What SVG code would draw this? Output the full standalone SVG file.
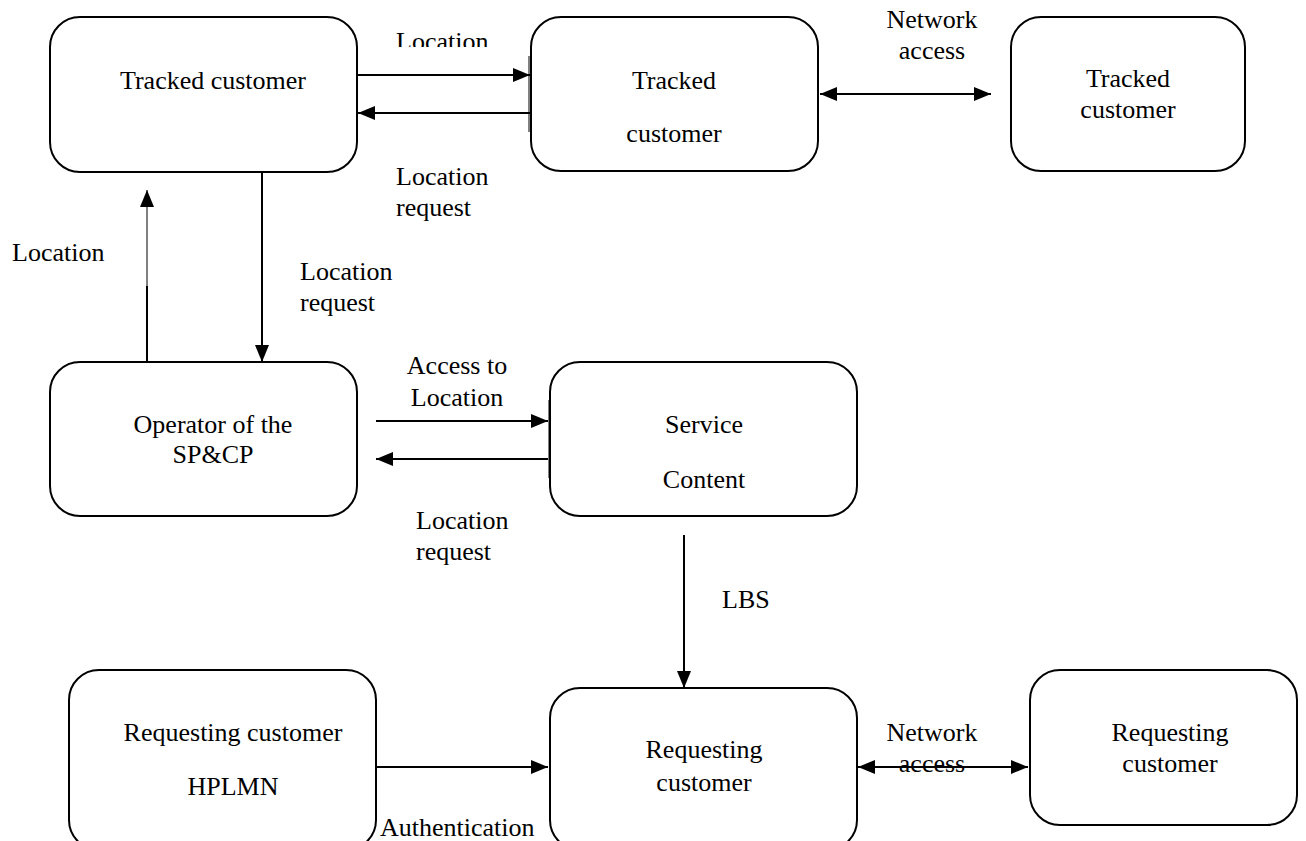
<svg xmlns="http://www.w3.org/2000/svg" width="1306" height="841" viewBox="0 0 1306 841">
<style>
.box{fill:#fff;stroke:#000;stroke-width:2}
.t{font-family:"Liberation Serif","Times New Roman",serif;font-size:26px;fill:#000}
.m{text-anchor:middle}
.c{stroke:#000;stroke-width:2;fill:none}
.thin{stroke:#000;stroke-width:1;fill:none}
</style>
<defs>
<marker id="ah" markerUnits="userSpaceOnUse" markerWidth="18" markerHeight="14" refX="17" refY="7" orient="auto-start-reverse">
<path d="M0,0 L17,7 L0,14 Z" fill="#000"/>
</marker>
<clipPath id="clipTop"><rect x="380" y="0" width="140" height="47"/></clipPath>
</defs>
<rect width="1306" height="841" fill="#fff"/>

<g id="n-tracked1">
<rect class="box" x="50" y="17" width="307" height="155" rx="30"/>
<text class="t m" x="213" y="89">Tracked customer</text>
</g>
<g id="n-tracked2">
<rect class="box" x="531" y="17" width="287" height="154" rx="30"/>
<text class="t m" x="674" y="89">Tracked</text>
<text class="t m" x="674" y="142">customer</text>
</g>
<g id="n-tracked3">
<rect class="box" x="1011" y="17" width="234" height="154" rx="30"/>
<text class="t m" x="1128" y="87">Tracked</text>
<text class="t m" x="1128" y="118">customer</text>
</g>
<g id="n-operator">
<rect class="box" x="50" y="362" width="307" height="154" rx="30"/>
<text class="t m" x="213" y="433">Operator of the</text>
<text class="t m" x="213" y="463">SP&amp;CP</text>
</g>
<g id="n-service">
<rect class="box" x="550" y="362" width="307" height="154" rx="30"/>
<text class="t m" x="704" y="433">Service</text>
<text class="t m" x="704" y="488">Content</text>
</g>
<g id="n-req-hplmn">
<rect class="box" x="69" y="670" width="307" height="180" rx="30"/>
<text class="t m" x="233" y="741">Requesting customer</text>
<text class="t m" x="233" y="795">HPLMN</text>
</g>
<g id="n-req-mid">
<rect class="box" x="550" y="688" width="307" height="162" rx="30"/>
<text class="t m" x="704" y="758">Requesting</text>
<text class="t m" x="704" y="791">customer</text>
</g>
<g id="n-req-right">
<rect class="box" x="1030" y="670" width="267" height="155" rx="30"/>
<text class="t m" x="1170" y="741">Requesting</text>
<text class="t m" x="1170" y="772">customer</text>
</g>

<g id="connectors">
<line class="thin" x1="529" y1="56" x2="529" y2="132"/>
<line class="thin" x1="549" y1="400" x2="549" y2="478"/>
<line class="c" x1="357" y1="75" x2="530" y2="75" marker-end="url(#ah)"/>
<line class="c" x1="530" y1="113" x2="358" y2="113" marker-end="url(#ah)"/>
<line class="c" x1="820" y1="94" x2="991" y2="94" marker-start="url(#ah)" marker-end="url(#ah)"/>
<line class="c" x1="147" y1="362" x2="147" y2="286"/>
<line class="thin" x1="147" y1="290" x2="147" y2="190" marker-end="url(#ah)"/>
<line class="c" x1="262" y1="172" x2="262" y2="362" marker-end="url(#ah)"/>
<line class="c" x1="376" y1="421" x2="548" y2="421" marker-end="url(#ah)"/>
<line class="c" x1="548" y1="459" x2="376" y2="459" marker-end="url(#ah)"/>
<line class="c" x1="684" y1="535" x2="684" y2="688" marker-end="url(#ah)"/>
<line class="c" x1="376" y1="767" x2="548" y2="767" marker-end="url(#ah)"/>
<line class="c" x1="858" y1="767" x2="1028" y2="767" marker-start="url(#ah)" marker-end="url(#ah)"/>
</g>

<g id="labels">
<text class="t" x="396" y="50" clip-path="url(#clipTop)">Location</text>
<text class="t" x="396" y="185">Location</text>
<text class="t" x="396" y="216">request</text>
<text class="t m" x="932" y="28">Network</text>
<text class="t m" x="932" y="59">access</text>
<text class="t" x="12" y="261">Location</text>
<text class="t" x="300" y="280">Location</text>
<text class="t" x="300" y="311">request</text>
<text class="t m" x="457" y="374">Access to</text>
<text class="t m" x="457" y="406">Location</text>
<text class="t" x="416" y="529">Location</text>
<text class="t" x="416" y="560">request</text>
<text class="t" x="722" y="608">LBS</text>
<text class="t" x="380" y="836">Authentication</text>
<text class="t m" x="932" y="741">Network</text>
<text class="t m" x="932" y="772">access</text>
</g>
</svg>
